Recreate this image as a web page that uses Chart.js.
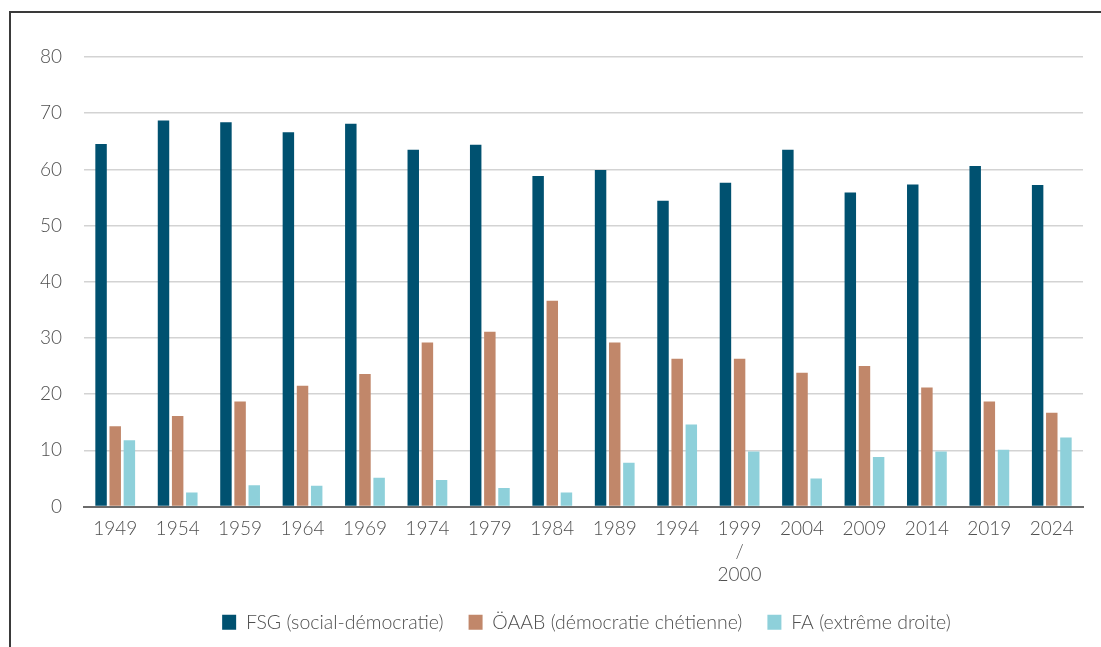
<!DOCTYPE html>
<html>
<head>
<meta charset="utf-8">
<script src="https://cdn.jsdelivr.net/npm/chart.js@4/dist/chart.umd.min.js"></script>
<style>
  html, body { margin: 0; padding: 0; background: #fff; }
  #wrap { position: relative; width: 1101px; height: 647px; overflow: hidden; }
  #frame { position: absolute; left: 9px; top: 11px; width: 1200px; height: 700px;
           border-left: 2px solid #3a3a3a; border-top: 2px solid #3a3a3a; pointer-events: none; }
  canvas { position: absolute; left: 0; top: 0; }
</style>
</head>
<body>
<div id="wrap">
  <canvas id="chart" width="1101" height="647"></canvas>
  <div id="frame"></div>
</div>
<script>
// Election years (1999/2000 is split over three lines)
const years = ['1949', '1954', '1959', '1964', '1969', '1974', '1979', '1984',
               '1989', '1994', ['1999', '/', '2000'], '2004', '2009', '2014', '2019', '2024'];

// Vote shares in %
const fsg  = [64.5, 68.7, 68.4, 66.6, 68.1, 63.5, 64.4, 58.8, 59.9, 54.4, 57.6, 63.5, 55.9, 57.3, 60.6, 57.2];
const oaab = [14.3, 16.1, 18.7, 21.5, 23.6, 29.2, 31.1, 36.6, 29.2, 26.3, 26.3, 23.8, 25.0, 21.2, 18.7, 16.7];
const fa   = [11.8,  2.5,  3.8,  3.7,  5.1,  4.7,  3.3,  2.5,  7.8, 14.6,  9.8,  5.0,  8.8,  9.8, 10.1, 12.3];

const seriesNames = ['FSG (social-démocratie)', 'ÖAAB (démocratie chétienne)', 'FA (extrême droite)'];
const yTicks = [0, 10, 20, 30, 40, 50, 60, 70, 80];

const colors = ['#005170', '#C1876A', '#8ED0DA'];
const textColor = '#505050';
const family = 'Lato, "Open Sans", sans-serif';
const tickFont = { family, size: 19, weight: '300' };
const legendFont = { family, size: 19.5, weight: '300' };

const barStyle = { categoryPercentage: 0.68, barPercentage: 0.81, borderWidth: 0 };

// Nudge the legend row a little to the right of the plot centre
const legendShift = {
  id: 'legendShift',
  afterLayout(chart) {
    const lg = chart.legend;
    if (lg) { lg.left += 40; lg.right += 40; }
  }
};

new Chart(document.getElementById('chart'), {
  type: 'bar',
  data: {
    labels: years,
    datasets: [
      { label: seriesNames[0], data: fsg,  backgroundColor: colors[0], ...barStyle },
      { label: seriesNames[1], data: oaab, backgroundColor: colors[1], ...barStyle },
      { label: seriesNames[2], data: fa,   backgroundColor: colors[2], ...barStyle }
    ]
  },
  plugins: [legendShift],
  options: {
    responsive: false,
    animation: false,
    devicePixelRatio: 1,
    layout: { padding: { left: 10, top: 57, right: 18, bottom: 5 } },
    plugins: {
      tooltip: { enabled: false },
      legend: {
        position: 'bottom',
        labels: {
          color: textColor,
          font: legendFont,
          boxWidth: 14,
          boxHeight: 15,
          padding: 25
        }
      }
    },
    scales: {
      x: {
        grid: { display: false, drawTicks: false },
        border: { display: true, color: '#6b6b6b', width: 2 },
        ticks: { color: textColor, font: tickFont, padding: 11, maxRotation: 0, autoSkip: false },
        afterFit: (s) => { s.height = 81; }
      },
      y: {
        min: 0,
        max: 80,
        afterBuildTicks: (s) => { s.ticks = yTicks.map(v => ({ value: v })); },
        grid: { color: '#d3d3d3', lineWidth: 1.5, drawTicks: false },
        border: { display: false },
        ticks: { color: textColor, font: tickFont, padding: 22 },
        afterFit: (s) => { s.width = 74; }
      }
    }
  }
});
</script>
</body>
</html>
